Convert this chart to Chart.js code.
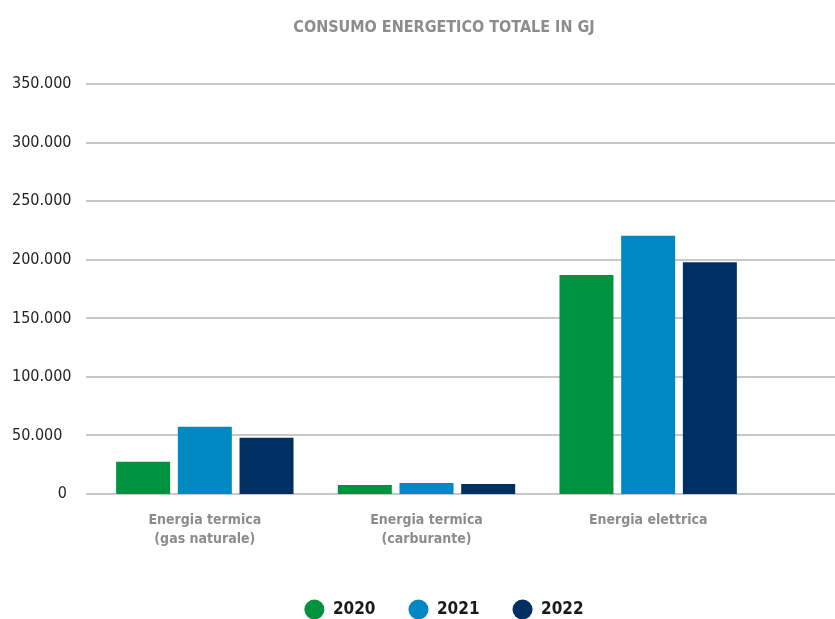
<!DOCTYPE html>
<html>
<head>
<meta charset="utf-8">
<script src="https://cdn.jsdelivr.net/npm/chart.js@4/dist/chart.umd.min.js"></script>
<style>
  html, body { margin: 0; padding: 0; background: #ffffff; }
  #wrap { width: 835px; height: 619px; position: relative; }
</style>
</head>
<body>
<div id="wrap"><canvas id="c" width="835" height="619"></canvas></div>
<script>
const categories = [
  ['Energia termica', '(gas naturale)'],
  ['Energia termica', '(carburante)'],
  'Energia elettrica'
];
const seriesNames = ['2020', '2021', '2022'];
const values2020 = [27500, 7700, 187000];
const values2021 = [57500, 9400, 220500];
const values2022 = [48000, 8600, 198000];
const yTicks = [0, 50000, 100000, 150000, 200000, 250000, 300000, 350000];
const titleText = 'CONSUMO ENERGETICO TOTALE IN GJ';

const colors = ['#00923f', '#0088c2', '#003063'];
const FONT = "'DejaVu Sans Condensed', 'Liberation Sans Narrow', sans-serif";

const fullGrid = {
  id: 'fullGrid',
  beforeDatasetsDraw(chart) {
    const y = chart.scales.y;
    const ctx = chart.ctx;
    ctx.save();
    ctx.strokeStyle = '#c8c8c8';
    ctx.lineWidth = 2;
    y.ticks.forEach(t => {
      const py = Math.round(y.getPixelForValue(t.value));
      ctx.beginPath();
      ctx.moveTo(86, py);
      ctx.lineTo(chart.width, py);
      ctx.stroke();
    });
    ctx.restore();
  }
};

new Chart(document.getElementById('c'), {
  type: 'bar',
  data: {
    labels: categories,
    datasets: [
      { label: seriesNames[0], data: values2020, backgroundColor: colors[0], yAxisID: 'y' },
      { label: seriesNames[1], data: values2021, backgroundColor: colors[1], yAxisID: 'y' },
      { label: seriesNames[2], data: values2022, backgroundColor: colors[2], yAxisID: 'y' }
    ]
  },
  options: {
    responsive: false,
    animation: false,
    devicePixelRatio: 1,
    categoryPercentage: 0.835,
    barPercentage: 0.875,
    layout: { padding: { left: 53, right: 0, top: 0, bottom: -9 } },
    plugins: {
      title: {
        display: true,
        text: titleText,
        color: '#8c8c8c',
        font: { family: FONT, size: 16, weight: 'bold' },
        padding: { top: 18, bottom: 47 }
      },
      legend: {
        position: 'bottom',
        labels: {
          usePointStyle: true,
          pointStyle: 'circle',
          pointStyleWidth: 20,
          boxWidth: 20,
          boxHeight: 14,
          padding: 33,
          color: '#1a1a1a',
          font: { family: FONT, size: 17, weight: 'bold' }
        }
      },
      tooltip: { enabled: false }
    },
    scales: {
      x: {
        grid: { display: false },
        border: { display: false },
        afterFit(s) { s.height = 74; },
        ticks: {
          color: '#8c8c8c',
          padding: 9,
          maxRotation: 0,
          autoSkip: false,
          font: { family: FONT, size: 14, weight: 'bold', lineHeight: 1.35 }
        }
      },
      y: {
        position: 'left',
        min: 0,
        max: 350000,
        afterBuildTicks(scale) { scale.ticks = yTicks.map(v => ({ value: v })); },
        afterFit(s) { s.width = 41; },
        grid: { display: false, drawTicks: false },
        border: { display: false },
        ticks: {
          mirror: true,
          crossAlign: 'near',
          color: '#231f20',
          padding: -82,
          font: { family: FONT, size: 16 },
          callback: v => v === 0 ? '\u2007\u2007\u2007\u2007\u2007' + '0' : v.toLocaleString('de-DE')
        }
      },
      yRight: {
        position: 'right',
        display: true,
        min: 0,
        max: 350000,
        afterFit(s) { s.width = 76; },
        grid: { display: false, drawTicks: false },
        border: { display: false },
        ticks: { display: false }
      }
    }
  },
  plugins: [fullGrid]
});
</script>
</body>
</html>
